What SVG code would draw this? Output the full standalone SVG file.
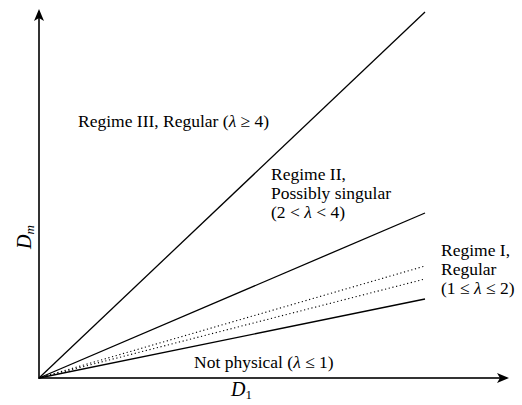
<svg xmlns="http://www.w3.org/2000/svg" width="522" height="405" viewBox="0 0 522 405">
<style>
text{font-family:'Liberation Serif','Times New Roman',serif;font-size:17.5px;fill:#000}
.ln{stroke:#000;stroke-width:1.3;fill:none}
.dt{stroke:#000;stroke-width:1.1;fill:none;stroke-dasharray:1.2 2.6}
.ax{stroke:#333;stroke-width:2;fill:none}
</style>
<defs>
<marker id="ah" viewBox="0 0 12 10" refX="10" refY="5" markerWidth="6" markerHeight="5" orient="auto" markerUnits="strokeWidth">
<path d="M0,0 L12,5 L0,10 L3,5 Z" fill="#000"/>
</marker>
</defs>
<rect width="522" height="405" fill="#fff"/>
<g id="connectors">
<line class="ax" x1="39" y1="379" x2="39" y2="11" marker-end="url(#ah)"/>
<line class="ax" x1="38" y1="378" x2="507" y2="378" marker-end="url(#ah)"/>
<line class="ln" x1="39" y1="378" x2="425" y2="12"/>
<line class="ln" x1="39" y1="378" x2="425" y2="213"/>
<line class="dt" x1="39" y1="378" x2="425" y2="266"/>
<line class="dt" x1="39" y1="378" x2="425" y2="279"/>
<line class="ln" x1="39" y1="378" x2="425" y2="299"/>
</g>
<g id="regime3"><text x="78" y="127">Regime III, Regular (<tspan font-style="italic">λ</tspan> ≥ 4)</text></g>
<g id="regime2">
<text x="271" y="180">Regime II,</text>
<text x="271" y="199">Possibly singular</text>
<text x="271" y="218">(2 &lt; <tspan font-style="italic">λ</tspan> &lt; 4)</text>
</g>
<g id="regime1">
<text x="441" y="256">Regime I,</text>
<text x="441" y="275">Regular</text>
<text x="441" y="294">(1 ≤ <tspan font-style="italic">λ</tspan> ≤ 2)</text>
</g>
<g id="notphys"><text x="194" y="368">Not physical (<tspan font-style="italic">λ</tspan> ≤ 1)</text></g>
<g id="xlabel"><text x="231" y="396" style="font-size:20px;font-style:italic">D<tspan style="font-size:13px;font-style:normal" dy="3">1</tspan></text></g>
<g id="ylabel"><text transform="translate(31,249) rotate(-90)" style="font-size:20px;font-style:italic">D<tspan style="font-size:13px" dy="3">m</tspan></text></g>
</svg>
